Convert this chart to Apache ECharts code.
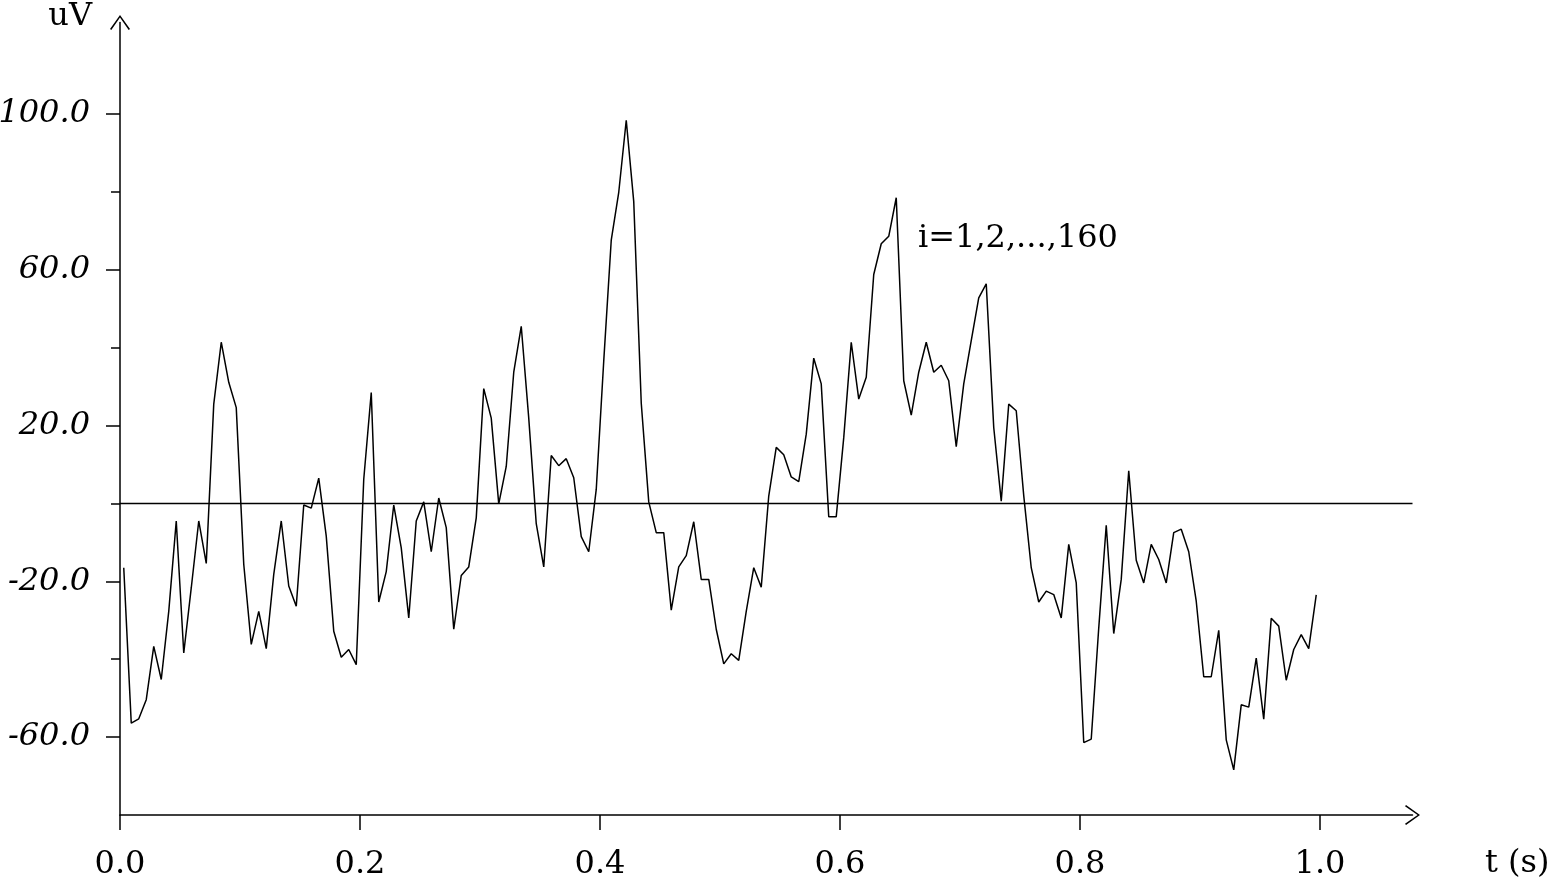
<!DOCTYPE html>
<html>
<head>
<meta charset="utf-8">
<title>uV - t</title>
<script src="https://cdn.jsdelivr.net/npm/echarts@6/dist/echarts.min.js"></script>
<style>
	html, body { margin: 0; padding: 0; background: #fff; }
	#myChart { width: 1551px; height: 881px; }
</style>
</head>
<body>
<div id="myChart"></div>
<script>
	// 160 samples, i=1,2,...,160 (uV)
	var uvList = [
		-16.5, -56.4, -55.3, -50.4, -36.7, -45.2, -27.7, -4.5, -38.4, -21.7,
		-4.5, -15.4, 25.5, 41.4, 31.1, 24.6, -15.6, -36.2, -27.7, -37.3,
		-18.2, -4.5, -21.2, -26.4, -0.4, -1.2, 6.5, -8.4, -32.8, -39.5,
		-37.5, -41.4, 6.2, 28.5, -25.3, -17.5, -0.4, -11.4, -29.4, -4.5,
		0.4, -12.4, 1.4, -6.2, -32.3, -18.5, -16.3, -3.7, 29.5, 21.9,
		-0.1, 9.5, 33.7, 45.5, 21.9, -5.2, -16.3, 12.3, 9.7, 11.5,
		6.6, -8.5, -12.4, 3.6, 36.6, 67.6, 79.9, 98.4, 77.5, 25.8,
		0.4, -7.5, -7.5, -27.4, -16.3, -13.4, -4.7, -19.5, -19.5, -32.3,
		-41.2, -38.6, -40.3, -27.7, -16.5, -21.5, 1.9, 14.4, 12.5, 6.8,
		5.6, 17.8, 37.3, 30.7, -3.4, -3.4, 16.9, 41.4, 26.8, 32.4,
		58.8, 66.7, 68.6, 78.5, 31.5, 22.7, 33.7, 41.4, 33.7, 35.5,
		31.5, 14.6, 30.7, 41.8, 52.8, 56.4, 19.5, 0.6, 25.5, 23.8,
		2.0, -16.5, -25.3, -22.5, -23.4, -29.4, -10.5, -20.4, -61.4, -60.5,
		-32.0, -5.6, -33.4, -19.5, 8.4, -14.6, -20.4, -10.5, -14.4, -20.4,
		-7.5, -6.6, -12.4, -25.1, -44.5, -44.5, -32.6, -60.7, -68.4, -51.7,
		-52.3, -39.7, -55.4, -29.5, -31.5, -45.4, -37.5, -33.7, -37.3, -23.5
	];
	var sampleCount = 160;

	var xTickList = [0, 0.2, 0.4, 0.6, 0.8, 1.0];
	var yLabelList = [-60, -20, 20, 60, 100];
	var yMinorList = [-40, 0, 40, 80];

	// sample i sits in the middle of its 1/160 s slot
	var lineData = [];
	for (var i = 0; i < uvList.length; i++) {
		lineData.push([(i + 0.5) / sampleCount, uvList[i]]);
	}

	var serif = '"DejaVu Serif", "Liberation Serif", serif';
	// open arrow head, pointing up
	var arrowPath = 'path://M0,14 L10,0 L20,14 L18.7,15 L10,2.4 L1.3,15 Z';

	var myChart = echarts.init(document.getElementById('myChart'));
	var option = {
		animation: false,
		backgroundColor: '#fff',
		grid: {
			left: 120,
			right: 138.5,
			top: 22.5,
			bottom: 66,
			outerBoundsMode: 'none'
		},
		xAxis: {
			type: 'value',
			min: 0,
			max: 1.0771,
			axisLine: {
				onZero: false,
				lineStyle: { color: '#000', width: 1.5 },
				symbol: ['none', arrowPath],
				symbolSize: [22, 15]
			},
			axisTick: {
				customValues: xTickList,
				length: 15,
				lineStyle: { color: '#000', width: 1.5 }
			},
			axisLabel: {
				customValues: xTickList,
				margin: 34,
				color: '#000',
				fontFamily: serif,
				fontSize: 32,
				formatter: function (v) { return v.toFixed(1); }
			},
			splitLine: { show: false }
		},
		yAxis: [{
			type: 'value',
			min: -80,
			max: 123.5,
			axisLine: {
				onZero: false,
				lineStyle: { color: '#000', width: 1.5 },
				symbol: ['none', arrowPath],
				symbolSize: [20, 15]
			},
			axisTick: {
				customValues: yLabelList,
				length: 14,
				lineStyle: { color: '#000', width: 1.5 }
			},
			axisLabel: {
				customValues: yLabelList,
				margin: 30,
				color: '#000',
				fontFamily: serif,
				fontStyle: 'italic',
				fontSize: 32,
				formatter: function (v) { return v.toFixed(1); }
			},
			splitLine: { show: false }
		}, {
			// only the short ticks
			type: 'value',
			position: 'left',
			min: -80,
			max: 123.5,
			axisLine: { show: false, onZero: false },
			axisTick: {
				customValues: yMinorList,
				length: 9,
				lineStyle: { color: '#000', width: 1.5 }
			},
			axisLabel: { show: false },
			splitLine: { show: false }
		}],
		graphic: [{
			type: 'text',
			right: 1551 - 92,
			top: 1,
			style: { text: 'uV', font: '32px ' + serif, fill: '#000' }
		}, {
			type: 'text',
			left: 1485,
			top: 848,
			style: { text: 't (s)', font: '32px ' + serif, fill: '#000' }
		}, {
			type: 'text',
			left: 918,
			top: 223,
			style: { text: 'i=1,2,...,160', font: '32px ' + serif, fill: '#000' }
		}],
		series: [{
			type: 'line',
			data: lineData,
			showSymbol: false,
			lineStyle: { color: '#000', width: 1.5 },
			markLine: {
				silent: true,
				symbol: 'none',
				label: { show: false },
				lineStyle: { color: '#000', width: 1.3, type: 'solid' },
				data: [{ yAxis: 0 }]
			}
		}]
	};
	myChart.setOption(option);
</script>
</body>
</html>
